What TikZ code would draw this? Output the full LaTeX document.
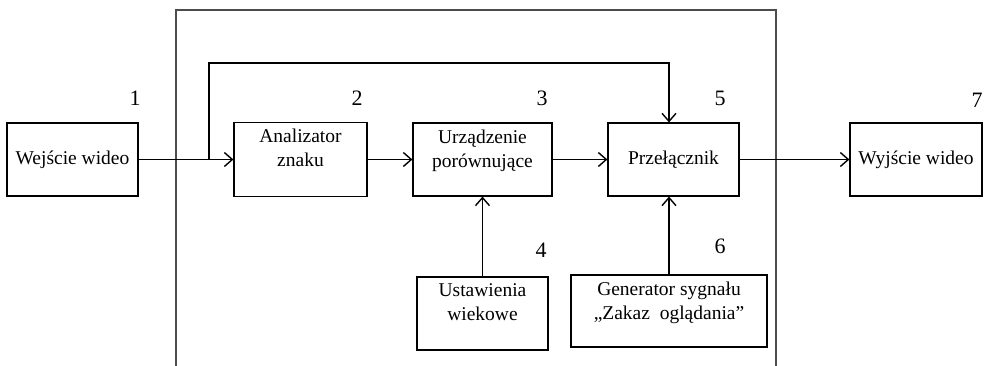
\documentclass[tikz,border=0pt]{standalone}
\usepackage{fontspec}
\setmainfont{Liberation Serif}
\usetikzlibrary{arrows.meta}

\begin{document}
\begin{tikzpicture}[x=1pt,y=-1pt,
  box/.style={draw, line width=1.2pt, inner sep=2pt},
  txt/.style={align=center, font=\fontsize{19.5}{24}\selectfont},
  num/.style={font=\fontsize{22}{26}\selectfont},
  flow/.style={->, line width=1.4pt},
  >={Straight Barb[length=8pt,width=14pt]}]

\useasboundingbox (0,0) rectangle (986,366);

% ramka urzadzenia (otwarta od dolu)
\draw[line width=1.3pt, black!70] (176,366) |- (776,10) -- (776,366);

\node[box, txt, minimum width=131pt, minimum height=73pt] (wej) at (72.5,159.5) {Wejście wideo};
\node[box, minimum width=133pt, minimum height=74pt] (ana) at (300.5,159.5) {};
\node[box, minimum width=139pt, minimum height=73pt] (cmp) at (482.5,159.5) {};
\node[box, txt, minimum width=131pt, minimum height=73pt] (prz) at (673.5,159.5) {Przełącznik};
\node[box, txt, minimum width=132pt, minimum height=73pt] (wyj) at (916,159.5) {Wyjście wideo};
\node[box, minimum width=131pt, minimum height=73pt] (ust) at (482.5,313.5) {};
\node[box, minimum width=196pt, minimum height=72pt] (gen) at (669,311) {};

\node[txt, anchor=north] (anat) at ([yshift=-4pt]ana.north) {Analizator\\znaku};
\node[txt, anchor=north] (cmpt) at ([yshift=-4pt]cmp.north) {Urządzenie\\porównujące};
\node[txt, anchor=north] (ustt) at ([yshift=-4pt]ust.north) {Ustawienia\\wiekowe};
\node[txt, anchor=north] (gent) at ([yshift=-4pt]gen.north) {Generator sygnału\\„Zakaz~~oglądania”};

\node[num] (n1) at (135,98) {1};
\node[num] (n2) at (357,98) {2};
\node[num] (n3) at (542,98) {3};
\node[num] (n4) at (541,250) {4};
\node[num] (n5) at (720,98) {5};
\node[num] (n6) at (720,246) {6};
\node[num] (n7) at (977,100) {7};

\coordinate (split) at (209,159.5);
\coordinate (fb) at (209,63);

\draw[flow]  (wej) -- (ana);
\draw[flow]  (ana) -- (cmp);
\draw[flow]  (cmp) -- (prz);
\draw[flow]  (prz) -- (wyj);
\draw[flow]  (ust) -- (cmp);
\draw[flow]  (gen.north) -- (gen.north |- prz.south);
\draw[flow]  (split) -- (fb) -| (gen.north |- prz.north);

\end{tikzpicture}
\end{document}
